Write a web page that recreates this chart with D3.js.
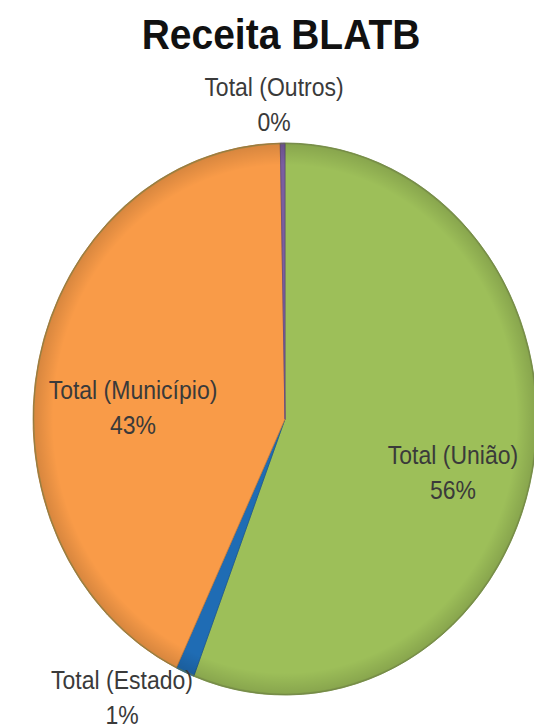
<!DOCTYPE html>
<html>
<head>
<meta charset="utf-8">
<script src="https://cdn.jsdelivr.net/npm/d3@7"></script>
<style>
  body { margin: 0; background: #fff; }
  svg { display: block; }
  text { font-family: "Liberation Sans", Arial, sans-serif; }
</style>
</head>
<body>
<svg id="chart"></svg>
<script>
// slice order as excel draws it: clockwise from 12 o'clock
const categories = ['Total (União)', 'Total (Estado)', 'Total (Município)', 'Total (Outros)'];
const values = [55.9, 1.2, 42.6, 0.3];
const pctLabels = ['56%', '1%', '43%', '0%'];
const colors = ['#9dbf59', '#1f6cb4', '#f99b48', '#7a5ea0'];

const width = 534;
const height = 728;
const cx = 285, cy = 419;
const r = 252;
const stretch = 276 / 252; // picture is a bit taller than wide

// where excel put each label (center of text block)
const labelPos = [
  { x: 453, y: 464 },
  { x: 122, y: 689 },
  { x: 133, y: 399 },
  { x: 274, y: 96 }
];

const svg = d3.select('#chart')
    .attr('width', width)
    .attr('height', height);

const defs = svg.append('defs');
const shade = defs.append('radialGradient')
    .attr('id', 'shade')
    .attr('gradientUnits', 'userSpaceOnUse')
    .attr('cx', 0).attr('cy', 0).attr('r', r);
shade.append('stop').attr('offset', '0%').attr('stop-color', '#fff').attr('stop-opacity', 0);
shade.append('stop').attr('offset', '92%').attr('stop-color', '#000').attr('stop-opacity', 0);
shade.append('stop').attr('offset', '100%').attr('stop-color', '#000').attr('stop-opacity', 0.14);

svg.append('text')
    .attr('transform', `translate(281,49) scale(1,${stretch})`)
    .attr('text-anchor', 'middle')
    .style('font-size', '39px')
    .style('font-weight', 'bold')
    .style('fill', '#111')
    .text('Receita BLATB');

const pie = d3.pie().sort(null).value(d => d);
const arc = d3.arc().innerRadius(0).outerRadius(r);
const arcs = pie(values);

const g = svg.append('g')
    .attr('transform', `translate(${cx},${cy}) scale(1,${stretch})`);

g.selectAll('path.slice')
    .data(arcs)
  .enter().append('path')
    .attr('class', 'slice')
    .attr('d', arc)
    .style('fill', (d, i) => colors[i])
    .style('stroke', (d, i) => d3.color(colors[i]).darker(0.6))
    .style('stroke-width', 0.8);

g.append('circle')
    .attr('r', r)
    .style('fill', 'url(#shade)')
    .style('pointer-events', 'none');

g.append('circle')
    .attr('r', r - 0.5)
    .style('fill', 'none')
    .style('stroke', '#6d7f45')
    .style('stroke-opacity', 0.5)
    .style('stroke-width', 1.5);

const labels = svg.selectAll('g.label')
    .data(categories)
  .enter().append('g')
    .attr('class', 'label')
    .attr('transform', (d, i) => `translate(${labelPos[i].x},${labelPos[i].y}) scale(1,${stretch})`);

labels.append('text')
    .attr('text-anchor', 'middle')
    .style('font-size', '23px')
    .style('fill', '#3a3a3a')
    .text(d => d);

labels.append('text')
    .attr('text-anchor', 'middle')
    .attr('y', 32)
    .style('font-size', '23px')
    .style('fill', '#3a3a3a')
    .text((d, i) => pctLabels[i]);
</script>
</body>
</html>
